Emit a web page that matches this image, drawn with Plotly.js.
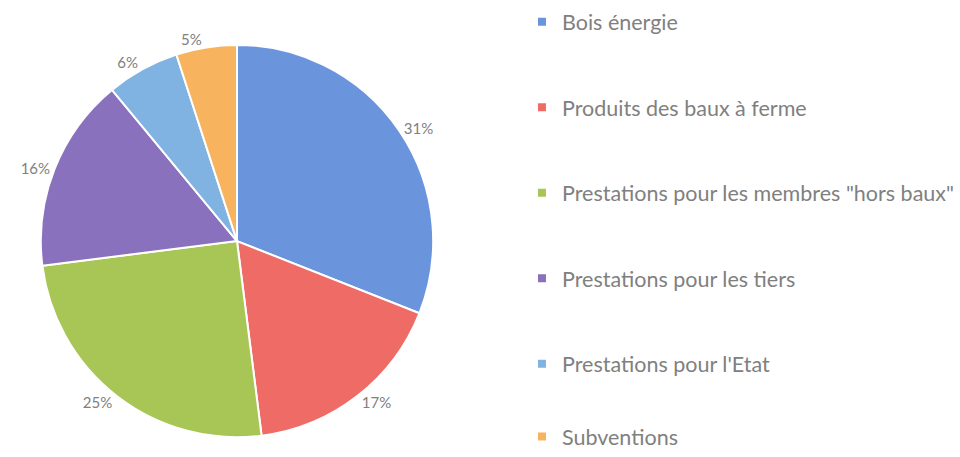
<!DOCTYPE html>
<html>
<head>
<meta charset="utf-8">
<script src="https://cdn.plot.ly/plotly-3.0.1.min.js"></script>
<style>
  html, body { margin: 0; padding: 0; background: #fff; }
  #chart { width: 960px; height: 457px; }
</style>
</head>
<body>
<div id="chart"></div>
<script>
// Data
const categories = [
    'Bois énergie',
    'Produits des baux à ferme',
    'Prestations pour les membres "hors baux"',
    'Prestations pour les tiers',
    "Prestations pour l'Etat",
    'Subventions'
];
const shares = [31, 17, 25, 16, 6, 5];
const sliceColors = ['#6a95dd', '#ef6b66', '#a8c655', '#8a71bd', '#80b3e2', '#f8b35f'];

const textGrey = '#808080';
const legendFont = { family: 'Lato, sans-serif', size: 21.5, color: textGrey };

// pie itself, legend drawn by the dummy traces below
const pieTrace = {
    type: 'pie',
    labels: categories,
    values: shares,
    sort: false,
    direction: 'clockwise',
    rotation: 0,
    marker: { colors: sliceColors, line: { color: '#ffffff', width: 2 } },
    textinfo: 'percent',
    texttemplate: '%{value}%',
    textposition: 'outside',
    outsidetextfont: { family: 'Lato, sans-serif', size: 15, color: textGrey },
    domain: { x: [0.0427, 0.4531], y: [0.0, 0.945] },
    showlegend: false,
    hoverinfo: 'label+percent'
};

// one legend entry per category, each in its own group so tracegroupgap spaces them;
// the last one goes to a second legend pinned to the bottom so nothing scrolls
const legendTraces = categories.map((name, i) => ({
    type: 'scatter',
    mode: 'markers',
    x: [null],
    y: [null],
    name: name,
    legendgroup: 'g' + i,
    legend: i === categories.length - 1 ? 'legend2' : 'legend',
    marker: { symbol: 'square', size: 8, color: sliceColors[i] },
    hoverinfo: 'skip'
}));

const layout = {
    width: 960,
    height: 457,
    margin: { l: 0, r: 0, t: 0, b: 0 },
    paper_bgcolor: '#ffffff',
    plot_bgcolor: '#ffffff',
    xaxis: { visible: false },
    yaxis: { visible: false },
    showlegend: true,
    legend: {
        x: 0.546,
        xanchor: 'left',
        y: 0.997,
        yanchor: 'top',
        traceorder: 'grouped',
        tracegroupgap: 54.5,
        itemwidth: 30,
        font: legendFont,
        bgcolor: 'rgba(0,0,0,0)'
    },
    legend2: {
        x: 0.546,
        xanchor: 'left',
        y: 0,
        yanchor: 'bottom',
        itemwidth: 30,
        font: legendFont,
        bgcolor: 'rgba(0,0,0,0)'
    },
    font: { family: 'Lato, sans-serif', color: textGrey }
};

Plotly.newPlot('chart', [pieTrace, ...legendTraces], layout, { displayModeBar: false, staticPlot: true });
</script>
</body>
</html>
